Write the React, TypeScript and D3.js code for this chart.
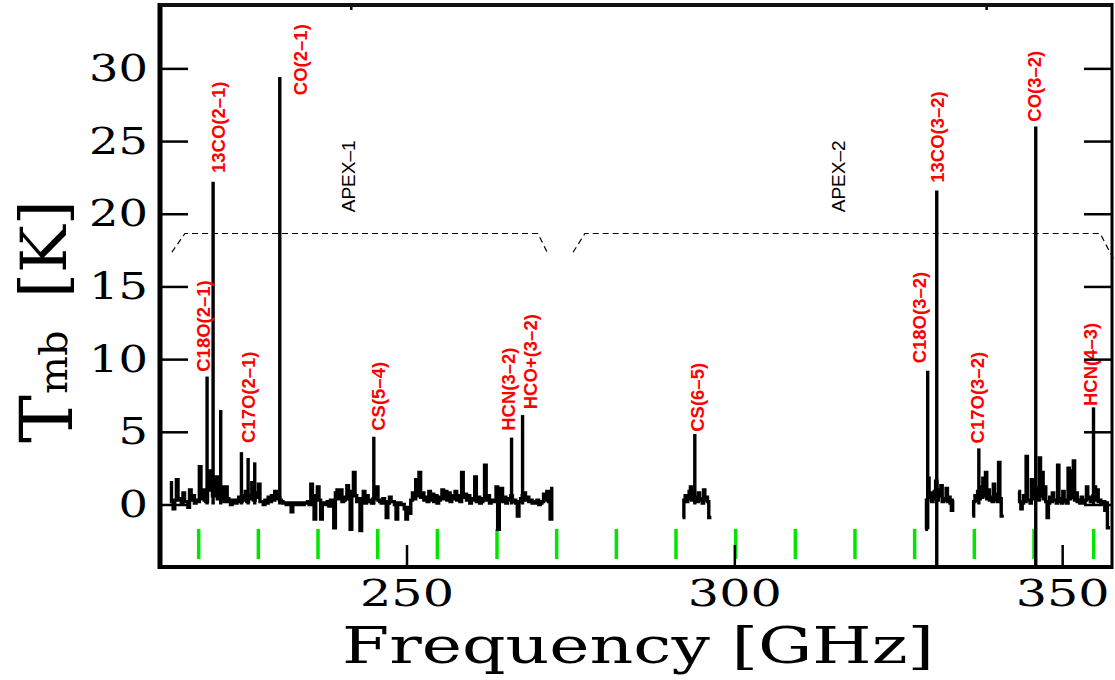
import React, { useEffect, useRef } from 'react'
import * as d3 from 'd3'

// axes
const xDomain = [212.4, 357.6]
const yDomain = [-4.3, 34.36]
const xTicks = [250, 300, 350]
const yTicks = [0, 5, 10, 15, 20, 25, 30]
const topTicks = [241.5, 338.4]

// labelled spectral lines: name, frequency (GHz), peak Tmb (K), lowest point (K)
const lineNames = ['C18O(2–1)', '13CO(2–1)', 'C17O(2–1)', 'CO(2–1)', 'CS(5–4)', 'HCN(3–2)', 'HCO+(3–2)',
  'CS(6–5)', 'C18O(3–2)', '13CO(3–2)', 'C17O(3–2)', 'CO(3–2)', 'HCN(4–3)']
const lineFreqs = [219.58, 220.5, 224.82, 230.67, 245.01, 266.02, 267.7, 293.97, 329.49, 330.87, 337.29, 345.97, 354.78]
const linePeaks = [8.8, 22.2, 3.6, 29.4, 4.66, 4.6, 6.15, 4.85, 9.2, 21.6, 3.86, 26.0, 6.68]
const lineLows = [0, 0, 0, 0, 0, 0, 0, 0, -1.7, -4.3, 0, -4.3, 0]
// where each label's foot sits (GHz, K)
const labelFreqs = [219.07, 221.28, 225.94, 233.87, 245.77, 265.61, 268.89, 294.4, 328.17, 331.0, 337.03, 345.71, 354.33]
const labelBase = [9.13, 22.8, 4.23, 28.16, 5.07, 5.07, 6.55, 5.0, 9.71, 22.13, 4.2, 26.33, 6.77]

// unlabelled lines
const extraFreqs = [221.66, 225.84, 226.85]
const extraPeaks = [6.5, 3.2, 2.9]

// baseline channels of each observed band (K)
const apex1Start = 213.9
const apex1Step = 0.25
const apex1Noise = [
  1.5, 0.2, -0.3, 0.3, 1.7, 0.3, 0.4, 0.1, 0.8, 0.2, 0.2, -0.2, 1.0, 0.3, 0.6, 0.1, 0.3, 0.2, 2.6, 0.4,
  1.0, 0.3, 0.2, 1.2, 2.3, 1.0, 0.6, 1.3, 1.9, 0.4, 0.4, 1.2, 0.9, 0.2, 1.2, 0.4, 0.2, 0.0, 0.3, 0.1,
  0.1, 0.3, 0.5, 0.2, 0.6, 0.3, 0.9, 0.2, 0.4, 0.6, 1.5, 0.3, 0.5, 0.8, 1.4, 0.2, 0.2, 0.0, 0.3, 0.1,
  0.5, 0.2, 0.6, 0.3, 0.9, 0.4, 0.5, 0.3, 0.2, 0.1, 0.1, 0.0, 0.0, 0.1, -0.5, 0.0, 0.1, 0.0, 0.0, 0.1,
  0.1, 0.0, 0.1, 0.1, 0.2, 0.0, 1.4, 0.6, -1.0, 0.5, 1.2, 0.3, -1.0, 0.1, 0.1, 0.0, 0.2, -0.1, 0.3, 0.1,
  -1.6, 0.8, 1.0, 0.4, 1.0, 0.2, 0.3, 0.5, 1.3, 0.4, -1.7, 0.9, 2.2, 0.6, 0.2, 0.4, -1.8, 0.2, 0.9, 0.1,
  0.6, 0.2, 0.3, 0.1, 0.4, 0.8, 1.2, 0.3, 0.2, 0.1, 0.4, 0.2, -0.9, 0.1, 0.5, 0.2, 0.2, 0.0, -1.0, 0.1,
  0.1, 0.0, 0.0, -0.3, -1.0, -0.2, -0.6, 0.3, 0.8, 0.4, 1.7, 0.6, 2.2, 0.5, 0.8, 0.3, 0.5, 0.2, 0.9, 0.3,
  0.7, 0.2, 0.6, 0.1, 0.3, 0.5, 1.0, 0.4, 0.9, 0.3, 0.8, 0.2, 0.4, 0.6, 0.9, 0.3, 0.6, 0.2, 2.2, 0.5,
  0.7, 0.3, 0.6, 0.1, 0.3, 0.4, 1.9, 0.2, 0.5, 0.1, 0.2, 0.4, 2.7, 0.3, 0.6, 0.1, 0.3, 0.2, 0.2, 1.2,
  -1.7, 0.4, 1.1, 0.2, 0.5, 0.1, 0.4, 0.3, 0.6, 0.2, 0.3, 0.1, -0.8, 0.2, 0.4, 0.6, 0.8, 0.3, 0.5, 0.2,
  0.3, 0.1, 0.2, 0.1, 0.3, 0.0, 0.1, 0.2, 0.7, 0.3, 0.9, 0.2, -1.0, 1.1,
]
const bandStep = 0.2
const cs65Start = 292.1
const cs65Noise = [-0.9, 0.3, 0.6, 0.2, 0.4, 0.9, 1.2, 0.3, 0.9, 0.4, 0.5, 0.2, 0.8, 0.3, 0.4, 0.1, 1.0, 0.3, 0.5, 0.2, -0.9, -0.9]
const co32aStart = 329.1
const co32aNoise = [-1.7, 0.3, 1.8, 0.5, 0.8, 0.2, 0.4, 0.9, 1.6, 0.3, 0.6, 1.0, 1.3, 0.2, 0.3, 0.4, 1.1, 0.2, 0.5, 0.1, -0.4, 0.3]
const c17oStart = 336.3
const c17oNoise = [-0.8, 0.2, 0.6, 0.3, 0.9, 0.4, 1.2, 0.5, 1.8, 0.6, 2.2, 0.4, 1.0, 0.3, 0.5, 0.2, 1.4, 0.3, 0.7, 0.2, 2.9, 0.4, -0.8, -0.8]
const apex2Start = 343.3
const apex2Noise = [
  0.9, 0.2, -0.3, 0.1, 0.6, 0.2, 3.3, 0.3, 0.3, 0.1, 1.7, 0.4, 0.6, 1.1, 1.0, 0.3, 3.2, 0.6, 2.2, 0.4,
  1.2, 0.2, -0.9, 0.1, 0.5, 0.2, 0.8, 0.3, 0.3, 0.1, 2.7, 0.2, 0.4, 0.1, 0.9, 0.3, 0.2, 0.1, 2.5, 0.4,
  2.3, 0.5, 3.0, 0.3, 0.8, 0.2, 0.3, 0.1, 0.5, 0.2, 0.1, 0.3, 1.2, 0.4, 0.5, 0.2, 0.4, 0.6, 1.2, 0.3,
  1.0, 0.2, 0.3, 0.1, 0.1, 0.2, -0.4, 0.1, -1.6, -1.6,
]

// green markers under the spectrum (GHz)
const greenTicks = [218.3, 227.4, 236.5, 245.6, 254.7, 263.8, 272.9, 282.0, 291.1, 300.2, 309.3, 318.4, 327.5, 336.6, 345.7, 354.8]

// receiver bands
const bandNames = ['APEX–1', 'APEX–2']
const bandLabelFreq = [241.06, 315.84]
const bandLabelBase = 20.1
const apex1Bracket: [number, number][] = [[214.2, 17.35], [216.2, 18.64], [270.04, 18.64], [271.45, 17.35]]
const apex2Bracket: [number, number][] = [[275.4, 17.35], [277.2, 18.64], [355.8, 18.64], [357.8, 16.9]]

export default function App() {
  const ref = useRef<SVGSVGElement>(null)

  useEffect(() => {
    const svg = d3.select(ref.current)
    svg.selectAll('*').remove()

    const L = 160, R = 1112, T = 5, B = 567
    const x = d3.scaleLinear().domain(xDomain).range([L, R])
    const y = d3.scaleLinear().domain(yDomain).range([B, T])

    // green markers
    svg.append('g').selectAll('line').data(greenTicks).join('line')
      .attr('x1', d => x(d)).attr('x2', d => x(d))
      .attr('y1', B - 38).attr('y2', B - 8)
      .attr('stroke', '#00e600').attr('stroke-width', 3.5)

    // baseline noise as histogram steps
    const step = d3.line<[number, number]>().x(d => x(d[0])).y(d => y(d[1])).curve(d3.curveStepAfter)
    const chunks: [number, number, number[]][] = [
      [apex1Start, apex1Step, apex1Noise],
      [cs65Start, bandStep, cs65Noise],
      [co32aStart, bandStep, co32aNoise],
      [c17oStart, bandStep, c17oNoise],
      [apex2Start, bandStep, apex2Noise],
    ]
    chunks.forEach(([s, dv, vals]) => {
      const pts: [number, number][] = vals.map((v, i) => [s + i * dv, v])
      pts.push([s + vals.length * dv, vals[vals.length - 1]])
      svg.append('path').attr('d', step(pts))
        .attr('fill', 'none').attr('stroke', '#000').attr('stroke-width', 3.4)
    })

    // spectral lines
    svg.append('g').selectAll('line').data(lineFreqs).join('line')
      .attr('x1', d => x(d)).attr('x2', d => x(d))
      .attr('y1', (d, i) => y(lineLows[i])).attr('y2', (d, i) => y(linePeaks[i]))
      .attr('stroke', '#000').attr('stroke-width', 3.4)
    svg.append('g').selectAll('line').data(extraFreqs).join('line')
      .attr('x1', d => x(d)).attr('x2', d => x(d))
      .attr('y1', y(0)).attr('y2', (d, i) => y(extraPeaks[i]))
      .attr('stroke', '#000').attr('stroke-width', 3.4)

    // line names
    svg.append('g').selectAll('text').data(lineNames).join('text')
      .attr('transform', (d, i) => `translate(${x(labelFreqs[i])},${y(labelBase[i])}) rotate(-90)`)
      .attr('dy', '0.35em')
      .attr('font-family', '"Liberation Sans", Arial, sans-serif')
      .attr('font-weight', 'bold').attr('font-size', 18.5)
      .attr('fill', '#ff0000')
      .text(d => d)

    // APEX band brackets
    const poly = d3.line<[number, number]>().x(d => x(d[0])).y(d => y(d[1]))
    ;[apex1Bracket, apex2Bracket].forEach(b => {
      svg.append('path').attr('d', poly(b))
        .attr('fill', 'none').attr('stroke', '#000').attr('stroke-width', 1.2)
        .attr('stroke-dasharray', '6,4')
    })
    svg.append('g').selectAll('text').data(bandNames).join('text')
      .attr('transform', (d, i) => `translate(${x(bandLabelFreq[i])},${y(bandLabelBase)}) rotate(-90)`)
      .attr('dy', '0.35em')
      .attr('font-family', '"Liberation Sans", Arial, sans-serif')
      .attr('font-size', 19)
      .text(d => d)

    // axes
    const serif = '"DejaVu Serif", serif'
    const gl = svg.append('g').attr('transform', `translate(${L},0)`)
      .call(d3.axisLeft(y).tickValues(yTicks).tickSize(-28).tickPadding(12))
    gl.select('.domain').remove()
    gl.selectAll('line').attr('stroke-width', 2.5)
    gl.selectAll('text').attr('font-family', serif).attr('font-size', 38).attr('fill', '#000')
      .attr('textLength', (d: any) => String(d).length * 29.5).attr('lengthAdjust', 'spacingAndGlyphs')

    const gr = svg.append('g').attr('transform', `translate(${R},0)`)
      .call(d3.axisRight(y).tickValues(yTicks).tickSize(-28).tickFormat(() => ''))
    gr.select('.domain').remove()
    gr.selectAll('line').attr('stroke-width', 2.5)

    const gb = svg.append('g').attr('transform', `translate(0,${B})`)
      .call(d3.axisBottom(x).tickValues(xTicks).tickSize(-22).tickPadding(12))
    gb.select('.domain').remove()
    gb.selectAll('line').attr('stroke-width', 2.5)
    gb.selectAll('text').attr('font-family', serif).attr('font-size', 38).attr('fill', '#000')
      .attr('textLength', 94).attr('lengthAdjust', 'spacingAndGlyphs')

    const gt = svg.append('g').attr('transform', `translate(0,${T})`)
      .call(d3.axisTop(x).tickValues(topTicks).tickSize(-5).tickFormat(() => ''))
    gt.select('.domain').remove()
    gt.selectAll('line').attr('stroke-width', 2.5)

    // frame
    svg.append('line').attr('x1', L).attr('x2', L).attr('y1', T - 2).attr('y2', B + 2).attr('stroke', '#000').attr('stroke-width', 5)
    svg.append('line').attr('x1', L).attr('x2', R).attr('y1', T).attr('y2', T).attr('stroke', '#111').attr('stroke-width', 4)
    svg.append('line').attr('x1', L).attr('x2', R).attr('y1', B).attr('y2', B).attr('stroke', '#000').attr('stroke-width', 4)
    svg.append('line').attr('x1', R).attr('x2', R).attr('y1', T - 2).attr('y2', B + 2).attr('stroke', '#000').attr('stroke-width', 3)

    // titles
    svg.append('text').attr('x', 342).attr('y', 663)
      .attr('font-family', serif).attr('font-size', 50)
      .attr('textLength', 592).attr('lengthAdjust', 'spacingAndGlyphs')
      .text('Frequency [GHz]')
    svg.append('text').attr('transform', 'translate(72,443) rotate(-90)')
      .attr('font-family', serif).attr('font-size', 72).text('T')
    svg.append('text').attr('transform', 'translate(67,394) rotate(-90)')
      .attr('font-family', serif).attr('font-size', 40).text('mb')
    svg.append('text').attr('transform', 'translate(66,298) rotate(-90)')
      .attr('font-family', serif).attr('font-size', 64).text('[K]')
  }, [])

  return (
    <svg ref={ref} width={1115} height={680}
      style={{ position: 'absolute', left: 0, top: 0, background: '#fff' }} />
  )
}
